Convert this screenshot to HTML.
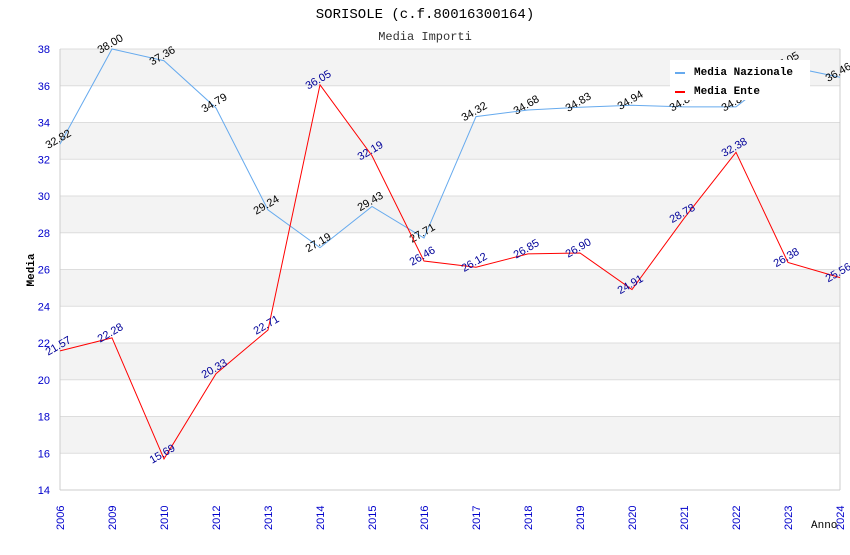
<!DOCTYPE html>
<html><head><meta charset="utf-8"><style>
body{margin:0;background:#fff;width:850px;height:550px;overflow:hidden}
svg{font-family:"Liberation Sans",sans-serif}
</style></head><body>
<svg id="c" width="850" height="550"></svg>
<script>
const categories=["2006","2009","2010","2012","2013","2014","2015","2016","2017","2018","2019","2020","2021","2022","2023","2024"];
const nazionale=[32.82,38.00,37.36,34.79,29.24,27.19,29.43,27.71,34.32,34.68,34.83,34.94,34.85,34.85,37.05,36.46];
const ente=[21.57,22.28,15.69,20.33,22.71,36.05,32.19,26.46,26.12,26.85,26.90,24.91,28.78,32.38,26.38,25.56];
const yTicks=[14,16,18,20,22,24,26,28,30,32,34,36,38];
const NS="http://www.w3.org/2000/svg";
const svg=document.getElementById('c');
const L=60,R=840,T=49,B=490,yMin=14,yMax=38;
const x=i=>L+i*(R-L)/(categories.length-1);
const y=v=>B-(v-yMin)/(yMax-yMin)*(B-T);
function el(tag,attrs,parent){const e=document.createElementNS(NS,tag);for(const k in attrs)e.setAttribute(k,attrs[k]);(parent||svg).appendChild(e);return e;}
// bands
for(let i=0;i<yTicks.length-1;i++){
  if(i%2===1){const r=el('rect',{x:L,y:y(yTicks[i+1]),width:R-L,height:y(yTicks[i])-y(yTicks[i+1]),fill:'#f3f3f3'});
  
  }
}
yTicks.forEach(v=>{
  const g=el('line',{x1:L,x2:R,y1:y(v),y2:y(v),stroke:'#dddddd','stroke-width':1});
  
  
  const t=el('text',{x:L-10,y:y(v)+4,'text-anchor':'end','font-size':11,fill:'#0000cc'});t.textContent=v;
  
  
});
el('line',{x1:L,x2:L,y1:T,y2:B,stroke:'#ccc'});
el('line',{x1:R,x2:R,y1:T,y2:B,stroke:'#ccc'});
el('line',{x1:L,x2:R,y1:B,y2:B,stroke:'#ccc'});
categories.forEach((c,i)=>{
  const t=el('text',{x:0,y:0,transform:`translate(${x(i)+4},${B+40}) rotate(-90)`,'font-size':11,fill:'#0000cc'});t.textContent=c;
  
  
});
function series(vals,color,lblColor,name){
  const p=el('polyline',{points:vals.map((v,i)=>x(i)+','+y(v)).join(' '),fill:'none',stroke:color,'stroke-width':1});
  
  
  vals.forEach((v,i)=>{
    const t=el('text',{x:0,y:0,transform:`translate(${x(i)},${y(v)-2}) rotate(-30)`,'text-anchor':'middle','font-size':11,fill:lblColor});t.textContent=v.toFixed(2);
    
    
  });
}
series(nazionale,'#66aaee','#000','nazionale');
series(ente,'#ff0000','#000099','ente');
// legend
const lg=el('g',{});


el('rect',{x:670,y:60,width:140,height:40,fill:'#fff'},lg);
el('rect',{x:675,y:72,width:10,height:2,fill:'#66aaee'},lg);
el('rect',{x:675,y:91,width:10,height:2,fill:'#ff0000'},lg);
const t1=el('text',{x:694,y:75,'font-size':11,'font-weight':'bold','font-family':'Liberation Mono, monospace'},lg);t1.textContent='Media Nazionale';
const t2=el('text',{x:694,y:94,'font-size':11,'font-weight':'bold','font-family':'Liberation Mono, monospace'},lg);t2.textContent='Media Ente';
</script>
<svg width="850" height="550" style="position:absolute;left:0;top:0">
<text x="425" y="18" text-anchor="middle" font-family="Liberation Mono, monospace" font-size="14">SORISOLE (c.f.80016300164)</text>
<text x="425" y="40" text-anchor="middle" font-family="Liberation Mono, monospace" font-size="12" fill="#333">Media Importi</text>
<text transform="translate(34,270) rotate(-90)" text-anchor="middle" font-family="Liberation Mono, monospace" font-size="11" font-weight="bold">Media</text>
<text x="811" y="528" font-family="Liberation Mono, monospace" font-size="11">Anno</text>
</svg>
</body></html>
